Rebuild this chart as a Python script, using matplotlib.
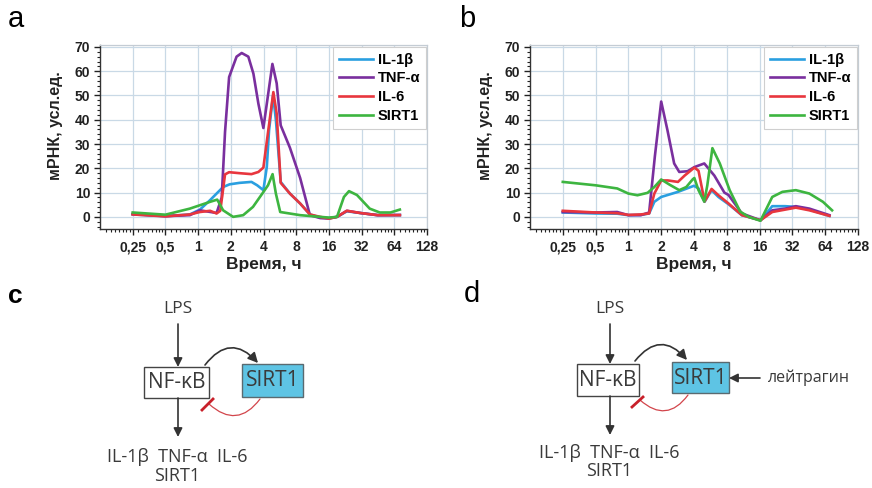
import numpy as np
import matplotlib
matplotlib.use('Agg')
import matplotlib.pyplot as plt
from matplotlib.ticker import MultipleLocator, LogLocator, NullFormatter
from matplotlib.patches import FancyArrowPatch, Rectangle
from matplotlib.lines import Line2D

plt.rcParams['font.family'] = ['Liberation Sans', 'DejaVu Sans']

series_names = ['IL-1β', 'TNF-α', 'IL-6', 'SIRT1']
series_colors = ['#2a9fe0', '#7a2f9e', '#e8363e', '#3db540']

x_ticks = [0.25, 0.5, 1, 2, 4, 8, 16, 32, 64, 128]
x_ticklabels = ['0,25', '0,5', '1', '2', '4', '8', '16', '32', '64', '128']
y_ticks = [0, 10, 20, 30, 40, 50, 60, 70]

# ---- panel a (LPS) ----
a_il1b_t = [0.25, 0.5, 0.84, 1.04, 1.29, 1.48, 1.7, 1.95, 2.4, 3.1, 3.5, 3.99, 4.29, 4.5, 4.9, 5.2, 5.76, 7.0, 8.7, 10.7, 13.3, 16, 19, 23.4, 31, 45, 72]
a_il1b_v = [1.0, 0.3, 1.0, 3.0, 6.9, 9.6, 12.3, 13.4, 14.0, 14.4, 13.0, 11.0, 20.6, 35.7, 50.0, 40.0, 14.4, 9.6, 5.5, 1.0, -0.3, -0.5, 0.0, 2.3, 1.6, 0.7, 0.7]

a_tnf_t = [0.25, 0.5, 0.84, 1.04, 1.48, 1.65, 1.77, 1.93, 2.26, 2.52, 2.9, 3.23, 3.59, 3.99, 4.29, 4.83, 5.29, 5.76, 7.0, 8.7, 10.7, 13.3, 16, 19, 23.4, 31, 45, 72]
a_tnf_v = [1.2, 0.3, 0.7, 2.7, 1.6, 8.0, 35.0, 57.6, 66.0, 67.5, 66.0, 59.0, 46.6, 36.6, 46.6, 63.0, 55.0, 37.7, 28.5, 16.0, 0.7, -0.5, -0.7, 0.0, 2.5, 1.6, 0.7, 0.8]

a_il6_t = [0.25, 0.5, 0.84, 1.04, 1.29, 1.48, 1.6, 1.77, 1.93, 2.4, 3.1, 3.59, 3.99, 4.43, 4.93, 5.29, 5.76, 7.0, 8.7, 10.7, 13.3, 16, 19, 23.4, 31, 45, 72]
a_il6_v = [1.0, 0.2, 1.0, 2.0, 2.5, 1.4, 2.5, 17.5, 18.4, 18.0, 17.6, 18.5, 20.3, 35.7, 51.4, 42.5, 14.0, 9.6, 5.5, 1.0, 0.0, -0.7, 0.0, 2.5, 1.6, 0.7, 0.7]

a_sirt_t = [0.25, 0.5, 0.84, 1.04, 1.29, 1.5, 1.7, 2.1, 2.6, 3.2, 3.9, 4.4, 4.85, 5.2, 5.7, 8.7, 13.3, 16, 19, 22, 24.5, 29, 38, 47, 59, 72]
a_sirt_v = [1.8, 0.9, 3.4, 4.8, 6.2, 7.1, 2.7, 0.0, 0.7, 4.1, 9.6, 13.0, 17.6, 9.6, 2.0, 0.7, 0.0, -0.3, 0.0, 8.2, 10.6, 9.0, 3.4, 1.8, 1.8, 3.0]

# ---- panel b (LPS + leitragin) ----
b_il1b_t = [0.25, 0.5, 0.79, 1.0, 1.3, 1.55, 1.73, 2.0, 2.85, 4.0, 4.4, 5.0, 5.8, 6.7, 8.3, 11, 16.3, 20.9, 27.5, 34.4, 45.8, 70]
b_il1b_v = [1.8, 1.4, 1.3, 0.7, 0.8, 1.4, 6.2, 8.2, 10.3, 12.8, 11.7, 6.2, 11.0, 8.2, 5.2, 0.7, -1.4, 4.4, 4.4, 4.1, 3.0, 0.4]

b_tnf_t = [0.25, 0.5, 0.79, 1.0, 1.3, 1.55, 1.75, 2.0, 2.28, 2.63, 2.93, 3.49, 4.03, 4.97, 6.15, 7.6, 8.3, 11, 16.3, 20.9, 27.5, 34.4, 45.8, 70]
b_tnf_v = [2.0, 1.8, 2.0, 0.7, 0.7, 1.8, 25.0, 47.5, 35.8, 22.0, 18.5, 18.8, 20.5, 22.0, 17.0, 10.0, 9.0, 1.4, -1.4, 2.7, 3.4, 4.4, 3.4, 0.7]

b_il6_t = [0.25, 0.5, 0.79, 1.0, 1.3, 1.55, 1.73, 2.0, 2.3, 2.85, 3.28, 4.03, 4.4, 5.0, 5.8, 6.7, 8.3, 11, 16.3, 20.9, 34.4, 45.8, 70]
b_il6_v = [2.5, 1.8, 1.5, 0.8, 1.0, 1.4, 9.6, 15.0, 15.0, 14.4, 17.0, 20.3, 19.0, 6.3, 11.5, 8.9, 5.5, 0.7, -1.4, 2.0, 3.8, 2.7, 0.4]

b_sirt_t = [0.25, 0.5, 0.79, 1.0, 1.21, 1.5, 1.73, 2.0, 2.4, 2.93, 3.4, 3.9, 4.03, 4.4, 4.97, 5.3, 5.9, 6.9, 8.5, 10.6, 12.7, 16.3, 20.9, 25.9, 34.4, 45.8, 61, 74]
b_sirt_v = [14.4, 13.0, 11.7, 9.6, 8.9, 9.9, 12.3, 15.4, 13.2, 11.0, 12.3, 15.5, 16.0, 11.0, 6.3, 13.0, 28.3, 22.0, 11.0, 2.2, 0.0, -1.6, 8.2, 10.3, 11.0, 9.6, 6.2, 2.7]

panel_a = [(a_il1b_t, a_il1b_v), (a_tnf_t, a_tnf_v), (a_il6_t, a_il6_v), (a_sirt_t, a_sirt_v)]
panel_b = [(b_il1b_t, b_il1b_v), (b_tnf_t, b_tnf_v), (b_il6_t, b_il6_v), (b_sirt_t, b_sirt_v)]

W, H = 872, 488
fig = plt.figure(figsize=(W / 100, H / 100), dpi=100)


def px_axes(left, top, right, bottom):
    return fig.add_axes([left / W, 1 - bottom / H, (right - left) / W, (bottom - top) / H])


def draw_chart(ax, data):
    for (t, v), name, c in zip(data, series_names, series_colors):
        ax.plot(t, v, color=c, lw=1.9, label=name, solid_joinstyle='round')
    ax.set_xscale('log', base=2)
    ax.set_xlim(0.125, 128)
    ax.set_ylim(-5, 70.8)
    ax.set_xticks(x_ticks)
    ax.set_xticklabels(x_ticklabels)
    ax.xaxis.set_minor_locator(LogLocator(base=2, subs=np.arange(1.125, 2.0, 0.125), numticks=60))
    ax.xaxis.set_minor_formatter(NullFormatter())
    ax.set_yticks(y_ticks)
    ax.yaxis.set_minor_locator(MultipleLocator(2))
    ax.grid(True, which='major', color='#c9d9e6', lw=0.9)
    ax.set_axisbelow(True)
    ax.tick_params(which='major', direction='out', length=4, width=1, labelsize=10, pad=3, colors='#222')
    ax.tick_params(which='minor', direction='out', length=2.5, width=0.8, colors='#222')
    ax.tick_params(axis='x', which='major', pad=4)
    for lab in ax.get_xticklabels() + ax.get_yticklabels():
        lab.set_fontweight('bold')
    for s in ['top', 'right']:
        ax.spines[s].set_color('#c4ccd4')
        ax.spines[s].set_linewidth(0.9)
    for s in ['left', 'bottom']:
        ax.spines[s].set_color('#333')
        ax.spines[s].set_linewidth(1.0)
    ax.set_xlabel('Время, ч', fontsize=12.5, fontweight='bold', color='#222')
    ax.set_ylabel('мРНК, усл.ед.', fontsize=11.5, fontweight='bold', color='#222')
    ax.xaxis.set_label_coords(0.5, -0.15)
    ax.yaxis.set_label_coords(-0.113, 0.56)
    leg = ax.legend(loc='upper right', bbox_to_anchor=(0.997, 0.99), borderaxespad=0,
                    prop={'weight': 'bold', 'size': 10.5}, frameon=True, fancybox=False,
                    edgecolor='#cfcfcf', framealpha=1, handlelength=2.3, handletextpad=0.35,
                    labelspacing=0.32, borderpad=0.4)
    leg.get_frame().set_linewidth(0.8)


ax_a = px_axes(100, 45, 427, 229)
draw_chart(ax_a, panel_a)
ax_b = px_axes(530, 45, 858, 229)
draw_chart(ax_b, panel_b)

# panel letters
fig.text(8 / W, 1 - 27 / H, 'a', fontsize=21, va='baseline', ha='left')
fig.text(459 / W, 1 - 27 / H, 'b', fontsize=21, va='baseline', ha='left')
fig.text(8 / W, 1 - 303 / H, 'c', fontsize=19, fontweight='bold', va='baseline', ha='left')
fig.text(464 / W, 1 - 302 / H, 'd', fontsize=21, va='baseline', ha='left')

# ---- schemes ----
dax = fig.add_axes([0, 0, 1, 1])
dax.set_xlim(0, W)
dax.set_ylim(H, 0)
dax.axis('off')
dax.patch.set_alpha(0)

tc = '#3a3a3a'
dfont = ['Open Sans', 'DejaVu Sans']


def arrow(p0, p1, rad=0.0, ms=13, lw=1.2, color='#333333', style='-|>'):
    dax.add_patch(FancyArrowPatch(p0, p1, arrowstyle=style, mutation_scale=ms, lw=lw,
                                  color=color, shrinkA=0, shrinkB=0,
                                  connectionstyle=f'arc3,rad={rad}'))


def scheme(cx, lps_y, nf_box, sirt_box, bottom_y, out_y1, out_y2, loop_black, loop_red, bar, extra=None):
    dax.text(cx, lps_y, 'LPS', fontsize=12.5, family=dfont, color=tc, ha='center', va='center')
    nx, ny, nw, nh = nf_box
    sx, sy, sw, sh = sirt_box
    arrow((cx, lps_y + 15), (cx, ny))
    dax.add_patch(Rectangle((nx, ny), nw, nh, facecolor='white', edgecolor='#444', lw=1))
    dax.text(nx + nw / 2, ny + nh / 2 + 0.5, 'NF-κB', fontsize=15, family=dfont, color=tc, ha='center', va='center')
    dax.add_patch(Rectangle((sx, sy), sw, sh, facecolor='#5ec4e4', edgecolor='#5a6a70', lw=1))
    dax.text(sx + sw / 2, sy + sh / 2 + 0.5, 'SIRT1', fontsize=15, family=dfont, color=tc, ha='center', va='center')
    arrow((cx, ny + nh), (cx, bottom_y))
    dax.text(cx - 1, out_y1, 'IL-1β  TNF-α  IL-6', fontsize=13, family=dfont, color=tc, ha='center', va='center')
    dax.text(cx - 1, out_y2, 'SIRT1', fontsize=13, family=dfont, color=tc, ha='center', va='center')
    arrow(loop_black[0], loop_black[1], rad=-0.6, ms=15, lw=1.2)
    arrow(loop_red[0], loop_red[1], rad=-0.55, style='-', lw=0.9, color='#d2454b')
    dax.add_line(Line2D([bar[0][0], bar[1][0]], [bar[0][1], bar[1][1]], color='#c8202a', lw=2))
    if extra is not None:
        (x0, x1, y, label) = extra
        arrow((x0, y), (x1, y))
        dax.text(x0 + 8, y, label, fontsize=11.5, family=dfont, color=tc, ha='left', va='center')


scheme(178, 309, (144, 367, 65, 31), (242, 364, 61, 33), 437, 457, 476,
       ((205, 365), (258, 363)), ((260, 399), (209, 404)), ((202, 410), (213, 399)))
scheme(610, 309, (577, 364, 62, 32), (672, 362, 57, 31), 435, 453, 471,
       ((635, 361), (687, 360)), ((688, 395), (640, 400)), ((632, 407), (643, 397)),
       extra=(760, 729, 378, 'лейтрагин'))

fig.savefig('out.png', dpi=100)
